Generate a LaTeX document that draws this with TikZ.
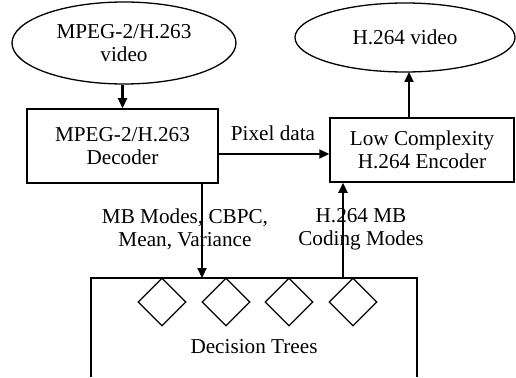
\documentclass[tikz,border=0pt]{standalone}
\usepackage{fontspec}
\setmainfont{Liberation Serif}
\usetikzlibrary{shapes.geometric,arrows.meta}
\begin{document}
\begin{tikzpicture}[x=1pt,y=-1pt,
  font=\fontsize{21.2}{23.5}\selectfont,
  oval/.style={draw,ellipse,line width=1.3pt,inner sep=0pt,align=center},
  blk/.style={draw,rectangle,line width=1.5pt,inner sep=0pt,align=center},
  dia/.style={draw,diamond,line width=1.2pt,inner sep=0pt,minimum width=48pt,minimum height=48pt},
  arr/.style={line width=2.2pt,-{Triangle[length=10pt,width=9pt]}},
  lbl/.style={align=center,inner sep=0pt}]
\useasboundingbox (0,0) rectangle (516,377);
\node[oval,minimum width=224pt,minimum height=82pt] (src) at (124,43) {MPEG-2/H.263\\video};
\node[oval,minimum width=220pt,minimum height=69pt] (out) at (405,37.5) {H.264 video};
\node[blk,minimum width=191pt,minimum height=74pt] (dec) at (122.5,146) {MPEG-2/H.263\\Decoder};
\node[blk,minimum width=184pt,minimum height=64pt] (enc) at (422,150) {Low Complexity\\H.264 Encoder};
% decision tree box (open at bottom)
\coordinate (tl) at (91,278);
\coordinate (tr) at (417,278);
\coordinate (bl) at (91,377);
\coordinate (br) at (417,377);
\draw[line width=1.5pt] (bl) -- (tl) -- (tr) -- (br);
\node[dia] (d1) at (162,302) {};
\node[dia] (d2) at (226,302) {};
\node[dia] (d3) at (289,302) {};
\node[dia] (d4) at (353,302) {};
\node[lbl] (dt) at (254,347) {Decision Trees};
% connectors
\draw[arr] (src.south -| dec.north) -- (dec.north);
\draw[arr] (enc.north -| 409,0) -- (409,72);
\coordinate (pd) at (dec.east |- 0,154);
\draw[arr] (pd) -- (enc.west |- pd);
\node[lbl] (pdl) at (273,133) {Pixel data};
\coordinate (dn) at (202,183);
\draw[arr] (dn) -- (dn |- tl);
\coordinate (up) at (343,278);
\draw[arr] (up) -- (up |- enc.south);
\node[lbl] (l1) at (185,229.5) {MB Modes, CBPC,\\Mean, Variance};
\node[lbl] (l2) at (361,229.5) {H.264 MB\\Coding Modes};
\end{tikzpicture}
\end{document}
